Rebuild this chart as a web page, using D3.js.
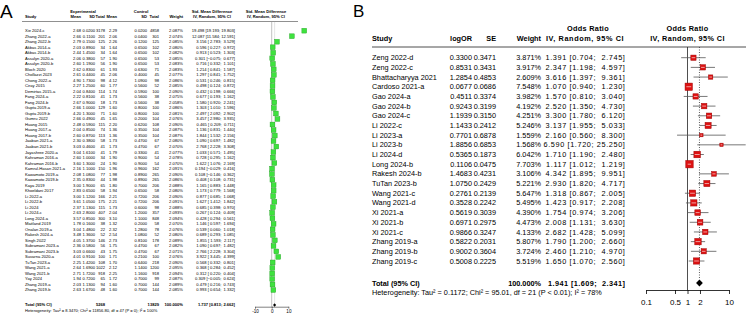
<!DOCTYPE html>
<html>
<head>
<meta charset="utf-8">
<script src="https://cdn.jsdelivr.net/npm/d3@7"></script>
<style>
  body { margin: 0; background: #fff; }
  text { font-family: "Liberation Sans", Arial, sans-serif; }
</style>
</head>
<body>
<svg id="chart" width="746" height="317"></svg>
<script>
// ---------- Panel A data (SMD, random effects) ----------
const studiesA = ["Xie 2024-c","Zhang 2022-a","Zhang 2022-b","Akbas 2014-a","Akbas 2014-b","Assulyn 2020-a","Assulyn 2020-b","Bloch 2020","Chollazzi 2023","Chong 2022-a",
  "Ciray 2015","Demirtas 2015-a","Fang 2024-a","Fang 2024-b","Gupta 2019-a","Gupta 2019-b","Gumru 2022","Huang 2015","Huang 2017-a","Huang 2017-b",
  "Jaaban 2021-a","Jaaban 2021-b","Jayashree 2020-a","Kahraman 2016-a","Kahraman 2016-b","Kamrul-Hasan 2021-a","Kawamoto 2019-a","Kawamoto 2019-b","Kaya 2019","Khoeldani 2017",
  "Li 2022-a","Li 2022-b","Li 2024","Li 2024-c","Long 2024-a","Maitland 2019","Onalan 2019-a","Rakesh 2024-a","Singh 2022","Subramani 2023-a",
  "Subramani 2023-b","Suvarna 2020-a","TuTan 2023-a","Wang 2021-a","Wang 2021-b","Yay 2024","Zhang 2019-a","Zhang 2019-b"];
const expMeanA = [2.68,2.66,2.79,2.03,2.44,2.06,2.60,2.62,2.61,4.90, 2.27,2.04,2.22,2.67,2.66,4.20,2.66,2.48,2.04,2.60,
  2.30,3.03,3.04,2.60,3.60,2.16,2.08,2.35,3.00,2.83, 3.00,3.61,2.37,2.63,3.57,1.78,3.04,3.48,4.05,2.36, 3.03,4.01,2.25,2.64,2.71,1.94,2.03,2.63];
const expSdA = [0.02,0.11,0.15,0.89,1.45,0.38,1.19,0.83,0.44,1.73, 1.25,0.84,0.81,0.90,1.00,1.30,0.49,0.59,0.85,0.87,
  0.38,0.46,1.61,1.00,1.30,1.10,1.08,0.83,1.90,0.65, 1.12,1.05,1.13,2.80,0.85,0.16,1.48,1.36,1.37,0.58, 0.66,0.91,1.42,1.69,1.72,0.72,1.13,1.67];
const expNA = [3178,201,125,34,34,57,56,61,45,98, 60,114,41,18,129,71,45,115,74,113,
  58,41,41,34,24,150,77,44,65,58, 166,175,115,407,300,38,22,52,146,56, 43,100,108,1022,918,65,94,48];
const ctrlMeanA = [2.29,2.06,2.26,1.64,1.64,1.90,1.90,1.93,2.06,4.12, 1.77,1.74,1.73,1.73,1.60,1.60,1.65,2.20,1.36,1.36,
  1.73,1.73,1.79,1.90,1.90,1.96,1.98,1.98,1.80,1.94, 2.21,2.21,1.73,2.04,3.10,1.32,2.32,2.54,2.73,1.75, 1.75,1.71,1.70,2.12,2.25,1.72,1.60,1.60];
const ctrlSdA = [0.02,0.04,0.12,0.65,0.65,0.65,0.65,0.63,0.40,1.09, 0.56,0.59,0.56,0.56,0.80,0.80,0.20,0.62,0.35,0.35,
  0.47,0.47,0.33,0.90,0.90,0.96,0.89,0.89,0.70,0.65, 0.72,0.72,0.60,1.20,1.10,0.20,1.28,1.08,0.81,0.47, 0.47,0.21,0.64,1.14,1.16,0.70,0.70,0.70];
const ctrlNA = [4858,301,125,102,102,53,53,71,45,98, 52,100,38,38,100,100,104,108,104,104,
  67,67,41,54,54,162,265,265,206,58, 206,206,98,357,848,58,78,52,178,67, 67,100,218,1200,918,99,144,144];
const weightA = [2.087,2.074,2.085,2.080,2.082,2.085,2.083,2.083,2.077,2.086, 2.085,2.090,2.075,2.058,2.086,2.081,2.076,2.090,2.087,2.087,
  2.080,2.070,2.077,2.078,2.070,2.091,2.090,2.086,2.088,2.080, 2.090,2.091,2.088,2.093,2.094,2.070,2.076,2.080,2.089,2.082, 2.071,2.076,2.090,2.095,2.094,2.087,2.089,2.085];
const smdA = [19.498,12.087,3.156,0.596,0.913,0.301,0.716,1.214,1.297,0.531, 0.498,0.432,0.677,1.580,1.303,2.497,3.457,0.465,1.136,1.844,
  1.090,2.768,1.033,0.728,1.622,0.194,0.108,0.408,1.165,1.173, 0.877,1.627,0.685,0.267,0.428,1.146,0.539,0.689,1.855,1.090, 2.766,3.922,0.568,0.368,0.312,0.309,0.479,0.993];
const smdLoA = [19.193,11.584,2.783,0.227,0.523,-0.075,0.332,0.841,0.841,0.246, 0.124,0.198,0.193,0.920,1.010,2.092,2.980,0.209,0.831,1.532,
  0.697,2.228,0.571,0.295,1.076,-0.029,-0.146,0.108,0.883,0.779, 0.685,1.412,0.398,0.124,0.294,0.597,0.060,0.293,1.593,0.697, 2.228,3.445,0.332,0.284,0.220,-0.005,0.216,0.654];
const smdHiA = [19.803,12.591,3.529,0.972,1.303,0.677,1.101,1.587,1.752,0.815, 0.872,0.666,1.162,2.241,1.596,2.902,3.935,0.711,1.440,2.156,
  1.482,3.308,1.495,1.162,2.169,0.416,0.362,0.731,1.448,1.568, 1.068,1.842,0.970,0.409,0.561,1.694,1.018,1.085,2.117,1.482, 3.304,4.399,0.801,0.452,0.404,0.624,0.743,1.332];
const totalA = { expN: 5268, ctrlN: 13829, weight: 100, est: 1.737, lo: 0.813, hi: 2.662 };
const hetA = "Heterogeneity: Tau² = 8.3470; Chi² = 11856.80, df = 47 (P = 0); I² = 100%";
const ticksA = [-10, 0, 10];

// ---------- Panel B data (odds ratios) ----------
const studiesB = ["Zeng 2022-d","Zeng 2022-c","Bhattacharyya 2021","Cardoso 2021-a","Gao 2024-a","Gao 2024-b","Gao 2024-c","Li 2022-c","Li 2023-a","Li 2023-b","Li 2024-d",
  "Long 2024-b","Rakesh 2024-b","TuTan 2023-b","Wang 2021-c","Wang 2021-d","Xi 2021-a","Xi 2021-b","Xi 2021-c","Zhang 2019-a","Zhang 2019-b","Zhang 2019-c"];
const logOR = [0.3300,0.8531,1.2854,0.0677,0.4511,0.9243,1.1939,1.1433,0.7701,1.8856,0.5365,
  0.1106,1.4683,1.0750,0.2761,0.3528,0.5619,0.6971,0.9866,0.5822,0.9002,0.5008];
const seB = [0.3471,0.3431,0.4853,0.0686,0.3374,0.3199,0.3150,0.2412,0.6878,0.6853,0.1873,
  0.0475,0.4231,0.2429,0.2139,0.2242,0.3039,0.2975,0.3247,0.2031,0.3604,0.2225];
const weightB = [3.871,3.917,2.609,7.548,3.982,4.192,4.251,5.246,1.559,1.568,6.042,
  7.703,3.106,5.221,5.647,5.495,4.390,4.473,4.133,5.807,3.724,5.519];
const orB = [1.391,2.347,3.616,1.070,1.570,2.520,3.300,3.137,2.160,6.590,1.710,
  1.117,4.342,2.930,1.318,1.423,1.754,2.008,2.682,1.790,2.460,1.650];
const orLoB = [0.704,1.198,1.397,0.940,0.810,1.350,1.780,1.955,0.560,1.720,1.190,
  1.012,1.895,1.820,0.867,0.917,0.974,1.131,1.428,1.200,1.210,1.070];
const orHiB = [2.745,4.597,9.361,1.230,3.040,4.730,6.120,5.033,8.300,25.250,2.480,
  1.219,9.951,4.717,2.005,2.208,3.206,3.630,5.099,2.660,4.970,2.560];
const totalB = { weight: 100, est: 1.941, lo: 1.609, hi: 2.341 };
const hetB = "Heterogeneity: Tau² = 0.1172; Chi² = 95.01, df = 21 (P < 0.01); I² = 78%";
const ticksB = [0.1, 0.5, 1, 2, 10];

const svg = d3.select("#chart");
const f2 = d3.format(".2f"), f3 = d3.format(".3f"), f4 = d3.format(".4f");

// small helper for a line of text
function addText(g, x, y, str, size, anchor = "start", weight = "normal") {
    return g.append("text")
        .attr("x", x).attr("y", y)
        .attr("dy", "0.35em")
        .attr("text-anchor", anchor)
        .attr("font-size", size)
        .attr("font-weight", weight)
        .attr("xml:space", "preserve")
        .style("white-space", "pre")
        .text(str);
}

/* ================= Panel A ================= */
const gA = svg.append("g");
const fsA = 4.1;
const yA = d3.scalePoint().domain(studiesA).range([30.7, 290]);
const xA = d3.scaleLinear().domain([-10, 10]).range([255, 288.4]);
const sizeA = d3.scaleSqrt().domain([0, 2.095]).range([0, 4.8]);

gA.append("text").attr("x", 0).attr("y", 18)
    .attr("font-family", "Liberation Serif, serif").attr("font-size", 19).text("A");

// headers
addText(gA, 83, 12, "Experimental", fsA, "middle", "bold");
addText(gA, 141, 12, "Control", fsA, "middle", "bold");
addText(gA, 212, 12, "Std. Mean Difference", fsA, "middle", "bold");
addText(gA, 266, 12, "Std. Mean Difference", fsA, "middle", "bold");
addText(gA, 25, 17, "Study", fsA, "start", "bold");
[["Mean", 81], ["SD", 95], ["Total", 105], ["Mean", 117], ["SD", 147], ["Total", 159], ["Weight", 183]]
    .forEach(([s, x]) => addText(gA, x, 17, s, fsA, "end", "bold"));
addText(gA, 212, 17, "IV, Random, 95% CI", fsA, "middle", "bold");
addText(gA, 266, 17, "IV, Random, 95% CI", fsA, "middle", "bold");
gA.append("line").attr("x1", 22).attr("x2", 298).attr("y1", 21.5).attr("y2", 21.5)
    .attr("stroke", "#444").attr("stroke-width", 0.6);

// reference lines
gA.append("line").attr("x1", xA(0)).attr("x2", xA(0)).attr("y1", 21.5).attr("y2", 306.7)
    .attr("stroke", "#999").attr("stroke-width", 0.6);
gA.append("line").attr("x1", xA(totalA.est)).attr("x2", xA(totalA.est)).attr("y1", 21.5).attr("y2", 303)
    .attr("stroke", "#999").attr("stroke-width", 0.5).attr("stroke-dasharray", "1,1");

// study rows
studiesA.forEach((s, i) => {
    const y = yA(s);
    addText(gA, 25, y, s, fsA);
    addText(gA, 81, y, f2(expMeanA[i]), fsA, "end");
    addText(gA, 95, y, f4(expSdA[i]), fsA, "end");
    addText(gA, 105, y, expNA[i], fsA, "end");
    addText(gA, 117, y, f2(ctrlMeanA[i]), fsA, "end");
    addText(gA, 147, y, f4(ctrlSdA[i]), fsA, "end");
    addText(gA, 159, y, ctrlNA[i], fsA, "end");
    addText(gA, 183, y, f3(weightA[i]) + "%", fsA, "end");
    const lo = f3(smdLoA[i]).padStart(6, " "), hi = f3(smdHiA[i]).padStart(6, " ");
    addText(gA, 235, y, `${f3(smdA[i])} [${lo}; ${hi}]`, fsA, "end");

    gA.append("line").attr("x1", xA(smdLoA[i])).attr("x2", xA(smdHiA[i]))
        .attr("y1", y).attr("y2", y).attr("stroke", "#555").attr("stroke-width", 0.5);
    const w = sizeA(weightA[i]);
    gA.append("rect").attr("x", xA(smdA[i]) - w / 2).attr("y", y - w / 2)
        .attr("width", w).attr("height", w)
        .attr("fill", "#3ee23e").attr("stroke", "#1f9f1f").attr("stroke-width", 0.4);
});

// total row
const yTotA = 305;
addText(gA, 25, yTotA, "Total (95% CI)", fsA, "start", "bold");
addText(gA, 105, yTotA, totalA.expN, fsA, "end", "bold");
addText(gA, 159, yTotA, totalA.ctrlN, fsA, "end", "bold");
addText(gA, 183, yTotA, f3(totalA.weight) + "%", fsA, "end", "bold");
addText(gA, 235, yTotA, `${f3(totalA.est)} [${f3(totalA.lo)}; ${f3(totalA.hi)}]`, fsA, "end", "bold");
addText(gA, 25, 310.5, hetA, fsA);
gA.append("path")
    .attr("d", `M${xA(totalA.lo)},${yTotA} L${xA(totalA.est)},${yTotA - 1.8} L${xA(totalA.hi)},${yTotA} L${xA(totalA.est)},${yTotA + 1.8}Z`)
    .attr("fill", "#000");

// axis
const axA = gA.append("g").attr("transform", "translate(0,306.7)")
    .call(d3.axisBottom(xA).tickValues(ticksA).tickSize(2).tickSizeOuter(0).tickPadding(1.5).tickFormat(d => String(d)));
axA.selectAll("text").attr("font-size", 4.6).attr("font-family", "Liberation Sans, Arial, sans-serif");
axA.selectAll("path,line").attr("stroke-width", 0.5);

/* ================= Panel B ================= */
const gB = svg.append("g");
const fsB = 7.3;
const yB = d3.scalePoint().domain(studiesB).range([57.7, 261]);
const xB = d3.scaleLog().domain([0.1, 10]).range([646, 729]);
const sizeB = d3.scaleSqrt().domain([0, 7.703]).range([0, 7.4]);

gB.append("text").attr("x", 353).attr("y", 16.5)
    .attr("font-family", "Liberation Serif, serif").attr("font-size", 17).text("B");

// headers
addText(gB, 588, 28, "Odds Ratio", fsB, "middle", "bold").attr("letter-spacing", 0.3);
addText(gB, xB(1), 28, "Odds Ratio", fsB, "middle", "bold").attr("letter-spacing", 0.3);
addText(gB, 372, 38, "Study", fsB, "start", "bold");
addText(gB, 472, 38, "logOR", fsB, "end", "bold");
addText(gB, 496, 38, "SE", fsB, "end", "bold");
addText(gB, 541, 38, "Weight", fsB, "end", "bold");
addText(gB, 585, 38, "IV, Random, 95% CI", fsB, "middle", "bold").attr("letter-spacing", 0.6);
addText(gB, xB(1), 38, "IV, Random, 95% CI", fsB, "middle", "bold").attr("letter-spacing", 0.4);
gB.append("line").attr("x1", 372).attr("x2", 746).attr("y1", 47).attr("y2", 47)
    .attr("stroke", "#222").attr("stroke-width", 0.8);

// reference lines
gB.append("line").attr("x1", xB(1)).attr("x2", xB(1)).attr("y1", 47).attr("y2", 290)
    .attr("stroke", "#222").attr("stroke-width", 0.8);
gB.append("line").attr("x1", xB(totalB.est)).attr("x2", xB(totalB.est)).attr("y1", 47).attr("y2", 279)
    .attr("stroke", "#333").attr("stroke-width", 0.8).attr("stroke-dasharray", "1,1.5");

// estimate + CI as one padded string, right aligned
function ciText(g, y, est, lo, hi, weight = "normal") {
    const s = `${f3(est)} [${f3(lo)}; ${f3(hi).padStart(6, " ")}]`;
    return addText(g, 625.5, y, s, fsB, "end", weight).attr("letter-spacing", 0.62);
}

// study rows
studiesB.forEach((s, i) => {
    const y = yB(s);
    addText(gB, 372, y, s, fsB);
    addText(gB, 472, y, f4(logOR[i]), fsB, "end");
    addText(gB, 496, y, f4(seB[i]), fsB, "end");
    addText(gB, 541, y, f3(weightB[i]) + "%", fsB, "end");
    ciText(gB, y, orB[i], orLoB[i], orHiB[i]);

    gB.append("line").attr("x1", xB(orLoB[i])).attr("x2", xB(orHiB[i]))
        .attr("y1", y).attr("y2", y).attr("stroke", "#555").attr("stroke-width", 0.8);
    const w = sizeB(weightB[i]);
    const cx = xB(orB[i]);
    gB.append("rect").attr("x", cx - w / 2).attr("y", y - w / 2)
        .attr("width", w).attr("height", w)
        .attr("fill", "#dd1111").attr("stroke", "#a00000").attr("stroke-width", 0.5);
    // CI segment inside the square is drawn white
    const a = Math.max(xB(orLoB[i]), cx - w / 2 + 0.8), b = Math.min(xB(orHiB[i]), cx + w / 2 - 0.8);
    if (b > a) gB.append("line").attr("x1", a).attr("x2", b).attr("y1", y).attr("y2", y)
        .attr("stroke", "#fff").attr("stroke-width", 0.6);
});

// total row
const yTotB = 283;
addText(gB, 372, yTotB, "Total (95% CI)", fsB, "start", "bold");
addText(gB, 541, yTotB, f3(totalB.weight) + "%", fsB, "end", "bold");
ciText(gB, yTotB, totalB.est, totalB.lo, totalB.hi, "bold").attr("letter-spacing", 0.45);
addText(gB, 372, 292, hetB, fsB);
gB.append("path")
    .attr("d", `M${xB(totalB.lo)},${yTotB} L${xB(totalB.est)},${yTotB - 3.5} L${xB(totalB.hi)},${yTotB} L${xB(totalB.est)},${yTotB + 3.5}Z`)
    .attr("fill", "#000");

// axis
const axB = gB.append("g").attr("transform", "translate(0,290)")
    .call(d3.axisBottom(xB).tickValues(ticksB).tickSize(4).tickSizeOuter(0).tickPadding(5).tickFormat(d => String(d)));
axB.selectAll("text").attr("font-size", 8).attr("font-family", "Liberation Sans, Arial, sans-serif");
axB.selectAll("path,line").attr("stroke-width", 0.8);
</script>
</body>
</html>
